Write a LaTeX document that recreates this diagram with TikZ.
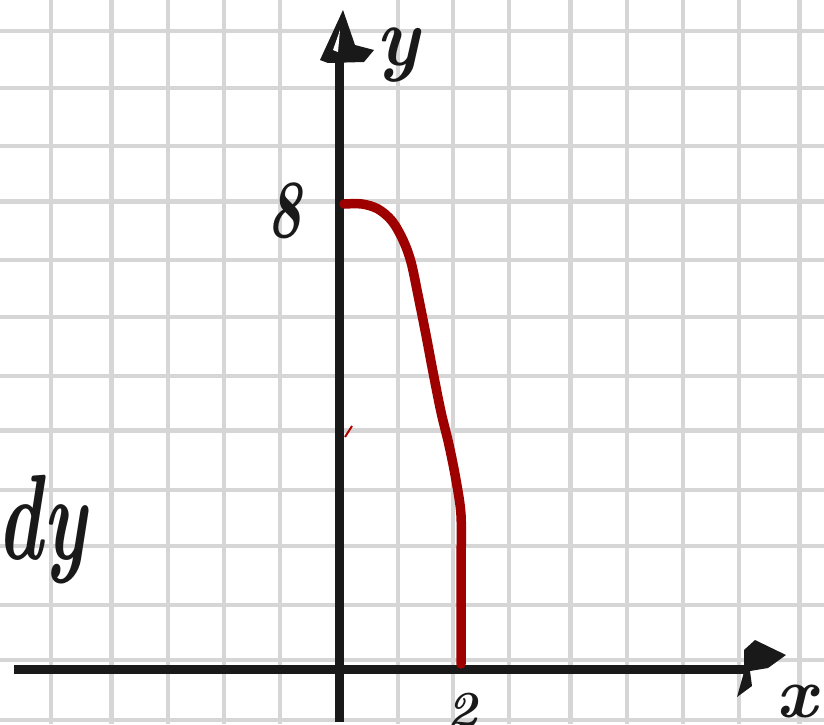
\documentclass[tikz,border=0pt]{standalone}
\definecolor{gridgray}{RGB}{214,214,214}
\begin{document}
\begin{tikzpicture}[x=1pt,y=-1pt,
  gridline/.style={draw=gridgray,line width=3.5pt},
  gridthick/.style={draw=gridgray,line width=5pt},
  axisline/.style={draw=black!90,line width=9pt},
  curveline/.style={draw=red!62!black,line width=9.5pt,line cap=round,line join=round},
  hand/.style={text=black!90,font=\bfseries\itshape,inner sep=0pt}]
\useasboundingbox (0,0) rectangle (824,724);
\fill[white] (0,0) rectangle (824,724);
% grid
\foreach \x in {51,168,224,280,398,453,509,627,683,739}
  \draw[gridline] (\x,0) -- (\x,724);
\foreach \x in {111,570,799}
  \draw[gridthick] (\x,0) -- (\x,724);
\foreach \y in {31,88,146,260,317,376,490,546,605,660,720}
  \draw[gridline] (0,\y) -- (824,\y);
\foreach \y in {201,430}
  \draw[gridthick] (0,\y) -- (824,\y);
% axes
\coordinate (ytop) at (339,56);
\coordinate (ybot) at (339,722);
\coordinate (xleft) at (14,669);
\coordinate (xright) at (748,669);
\draw[axisline] (ybot) -- (ytop);
\draw[axisline] (xleft) -- (xright);
\fill[black!90] (343,10) -- (320,60) -- (328,63) -- (364,62) -- (374,50) -- (355,45) -- cycle;
\fill[white] (340,30) -- (333,50) -- (338,52) -- cycle;
\fill[black!90] (744,650) -- (755,640) -- (786,655) -- (768,668) -- (750,671) -- (752,686) -- (737,697) -- (744,672) -- cycle;
% curve
\coordinate (c9) at (461,664);
\draw[curveline] plot[smooth,tension=0.55] coordinates {(344,204) (362,204) (378,209) (392,221) (403,240) (411,262) (418,295) (426,335) (433,372) (441,412) (449,445) (456,480) (461,515) (461,560)} -- (c9);
\draw[draw=red!70!black,line width=2pt] (345,437) -- (352,426);
% labels
\node[hand,font=\bfseries\itshape\fontsize{76}{76}\selectfont,yscale=1.1] (ylab) at (398,55) {y};
\node[hand,font=\bfseries\itshape\fontsize{72}{72}\selectfont,xscale=0.8,yscale=1.15] (eight) at (285,211) {8};
\node[hand,font=\bfseries\itshape\fontsize{52}{52}\selectfont] (two) at (462,711) {2};
\node[hand,font=\bfseries\itshape\fontsize{72}{72}\selectfont] (xlab) at (797,702) {x};
\node[hand,font=\bfseries\itshape\fontsize{90}{90}\selectfont,xscale=0.85,yscale=1.35] (dy) at (42,530) {dy};
\end{tikzpicture}
\end{document}
